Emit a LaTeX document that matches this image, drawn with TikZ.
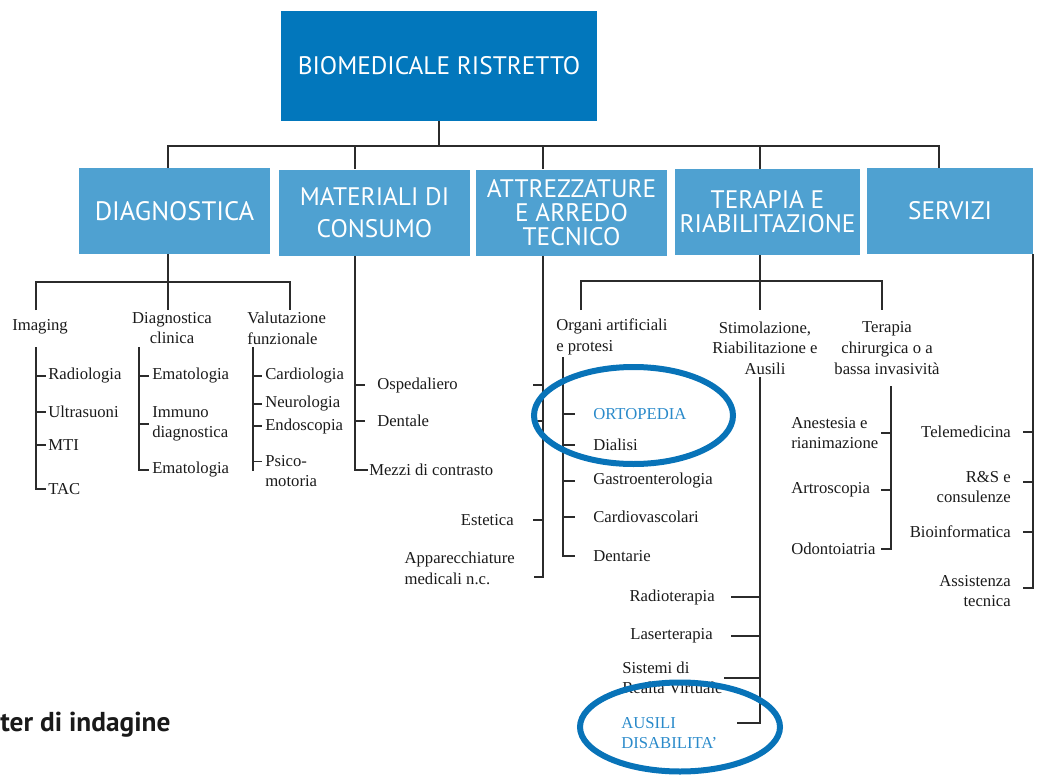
\documentclass[tikz,border=0pt]{standalone}
\usepackage{fontspec}
\setmainfont{Liberation Serif}
\newfontfamily\boxfont{PT Sans}
\usetikzlibrary{shapes.geometric}
\definecolor{rootblue}{HTML}{0277BC}
\definecolor{catblue}{HTML}{4FA1D1}
\definecolor{hlblue}{HTML}{2A8ACA}
\definecolor{ringblue}{HTML}{0873B8}
\definecolor{wirecol}{HTML}{2B2B2B}
\definecolor{ink}{HTML}{1A1A1A}

\begin{document}
\begin{tikzpicture}[x=0.75pt,y=-0.75pt,
  boxtext/.style={font=\boxfont\fontsize{19}{#1}\selectfont},
  rootbox/.style={fill=rootblue,text=white,inner sep=0pt,minimum width=237pt,minimum height=82.5pt,boxtext=24},
  catbox/.style={fill=catblue,text=white,inner sep=0pt,align=center,minimum height=64.5pt},
  leaf/.style={inner sep=0pt,text=ink,font=\fontsize{12.5}{15.5}\selectfont},
  lw/.style={leaf,anchor=west,align=left},
  lc/.style={leaf,align=center},
  le/.style={leaf,anchor=east,align=right},
  hl/.style={lw,text=hlblue},
  link/.style={draw=wirecol,line width=1.2pt},
  hoop/.style={ellipse,draw=ringblue,line width=4.5pt,inner sep=0pt}
]
\useasboundingbox (0,0) rectangle (1039,778);

% ---------- boxes ----------
\node[rootbox] (root) at (439,66) {BIOMEDICALE RISTRETTO};
\node[catbox,minimum width=143.25pt,font=\boxfont\fontsize{20}{24}\selectfont] (diag) at (174.5,211) {DIAGNOSTICA};
\node[catbox,minimum width=143.25pt,boxtext=24] (mat) at (374.5,212.5) {MATERIALI DI\\CONSUMO};
\node[catbox,minimum width=143.25pt,boxtext=18] (attr) at (571.5,212.5) {ATTREZZATURE\\E ARREDO\\TECNICO};
\node[catbox,minimum width=138.75pt,boxtext=18] (ter) at (767.5,212) {TERAPIA E\\RIABILITAZIONE};
\node[catbox,minimum width=124.5pt,boxtext=24] (serv) at (950,211) {SERVIZI};

% ---------- stems of the category boxes ----------
\coordinate (dX) at (168,0);
\coordinate (mX) at (355,0);
\coordinate (aX) at (543,0);
\coordinate (tX) at (760,0);
\coordinate (sX) at (939,0);
\coordinate (eX) at (1033,0);

\draw[link] (root.south) -- ++(0,25) coordinate (rbus);
\draw[link] (diag.north -| dX) |- (rbus) -| (serv.north -| sX);
\draw[link] (mat.north -| mX) -- (rbus -| mX);
\draw[link] (attr.north -| aX) -- (rbus -| aX);
\draw[link] (ter.north -| tX) -- (rbus -| tX);

% ---------- DIAGNOSTICA ----------
\node[lw] (img) at (12,327) {Imaging};
\node[lc] (dcl) at (172,328) {Diagnostica\\clinica};
\node[lw] (valf) at (247,328) {Valutazione\\funzionale};

\draw[link] (diag.south -| dX) -- ++(0,28) coordinate (dbus);
\coordinate (imgDrop) at (36,310);
\coordinate (valDrop) at (290,310);
\coordinate (dclDrop) at (168,310);
\draw[link] (imgDrop) |- (dbus) -| (valDrop);
\draw[link] (dbus) -- (dclDrop);

\node[lw] (rad) at (48,376) {Radiologia};
\node[lw] (ult) at (48,412) {Ultrasuoni};
\node[lw] (mti) at (48,445) {MTI};
\node[lw] (tac) at (48,489) {TAC};
\coordinate (imgSp) at (36,347);
\draw[link] (imgSp) |- ([xshift=-1.5pt]tac.west);
\foreach \n in {rad,ult,mti} \draw[link] (imgSp |- \n.west) -- ([xshift=-1.5pt]\n.west);

\node[lw] (ema1) at (152,376) {Ematologia};
\node[lw] (imm) at (152,424) {Immuno\\diagnostica};
\node[lw] (ema2) at (152,470) {Ematologia};
\coordinate (dclSp) at (139,347);
\draw[link] (dclSp) |- ([xshift=-2.5pt]ema2.west);
\foreach \n in {ema1,imm} \draw[link] (dclSp |- \n.west) -- ([xshift=-2.5pt]\n.west);

\node[lw] (car) at (265,376) {Cardiologia};
\node[lw] (neu) at (265,404) {Neurologia};
\node[lw] (endo) at (265,426) {Endoscopia};
\node[lw] (psi) at (265,471) {Psico-\\motoria};
\coordinate (valSp) at (253,347);
\coordinate (psiT) at ([yshift=7pt]psi.west);
\draw[link] (valSp) -- (valSp |- psi.west);
\foreach \n in {car,neu,endo,psiT} \draw[link] (valSp |- \n) -- ++(9,0);

% ---------- MATERIALI DI CONSUMO ----------
\node[lw] (osp) at (377,385) {Ospedaliero};
\node[lw] (dent) at (377,421) {Dentale};
\node[lw] (mezzi) at (369,470) {Mezzi di contrasto};
\draw[link] (mat.south -| mX) |- ([xshift=-1pt]mezzi.west);
\foreach \n in {osp,dent} \draw[link] (mX |- \n.west) -- ++(10,0);

% ---------- ATTREZZATURE E ARREDO TECNICO ----------
\node[le] (est) at (514,520) {Estetica};
\node[lw,anchor=east] (app) at (515,568) {Apparecchiature\\medicali n.c.};
\coordinate (aBot) at (543,577);
\draw[link] (attr.south -| aX) -- (aBot) -- ++(-9,0);
\foreach \n in {osp,dent,est} \draw[link] (aX |- \n) -- ++(-10,0);

% ---------- TERAPIA E RIABILITAZIONE ----------
\node[lw] (org) at (556,337) {Organi artificiali\\e protesi};
\node[lc] (stim) at (765,348) {Stimolazione,\\Riabilitazione e\\Ausili};
\node[lc] (chir) at (887,348) {Terapia\\chirurgica o a\\bassa invasività};

\draw[link] (ter.south -| tX) -- ++(0,26) coordinate (tbus);
\coordinate (orgDrop) at (581,310);
\coordinate (stimDrop) at (760,310);
\coordinate (chirDrop) at (882,310);
\draw[link] (orgDrop) |- (tbus) -| (chirDrop);
\draw[link] (tbus) -- (stimDrop);

% organi artificiali e protesi
\node[hl] (ort) at (593,414) {ORTOPEDIA};
\node[lw] (dia) at (593,445) {Dialisi};
\node[lw] (gas) at (593,481) {Gastroenterologia};
\node[lw] (cv) at (593,517) {Cardiovascolari};
\node[lw] (dnt) at (593,556) {Dentarie};
\coordinate (orgSp) at (563,357);
\draw[link] (orgSp) -- (orgSp |- dnt.west) -- ++(12,0);
\foreach \n in {ort,dia,gas,cv} \draw[link] (orgSp |- \n.west) -- ++(12,0);

% stimolazione, riabilitazione e ausili
\node[le] (radio) at (715,597) {Radioterapia};
\node[le] (laser) at (713,636) {Laserterapia};
\node[lw] (sist) at (622,678) {Sistemi di\\Realtà Virtuale};
\node[hl] (aus) at (621,733) {AUSILI\\DISABILITA’};
\coordinate (stimSp) at (760,377);
\coordinate (ausT) at ([yshift=7.5pt]aus.west);
\draw[link] (stimSp) -- (stimSp |- ausT) -- ++(-23,0);
\foreach \n in {radio,laser} \draw[link] (stimSp |- \n.east) -- ++(-29,0);
\draw[link] (stimSp |- sist.west) -- ++(-36,0);

% terapia chirurgica o a bassa invasivita
\node[lw] (anest) at (791,433) {Anestesia e\\rianimazione};
\node[lw] (artro) at (791,490) {Artroscopia};
\node[lw] (odon) at (791,549) {Odontoiatria};
\coordinate (chirSp) at (891,386);
\draw[link] (chirSp) -- (chirSp |- odon.west) -- ++(-10,0);
\foreach \n in {anest,artro} \draw[link] (chirSp |- \n.west) -- ++(-10,0);

% ---------- SERVIZI ----------
\node[le] (tele) at (1011,432) {Telemedicina};
\node[le] (rs) at (1011,487) {R\&S e\\consulenze};
\node[le] (bio) at (1011,532) {Bioinformatica};
\node[le] (ass) at (1011,591) {Assistenza\\tecnica};
\coordinate (rsT) at ([yshift=3.8pt]rs.east);
\coordinate (assT) at ([yshift=2.3pt]ass.east);
\draw[link] (serv.south -| eX) -- (eX |- assT) -- ++(-10,0);
\foreach \n in {tele,rsT,bio} \draw[link] (eX |- \n) -- ++(-10,0);

% ---------- highlight rings ----------
\node[hoop,minimum width=149.25pt,minimum height=72.75pt] (ring1) at (633.5,415.5) {};
\node[hoop,minimum width=150pt,minimum height=66.75pt] (ring2) at (680,727) {};

% ---------- caption fragment ----------
\node[anchor=base west,inner sep=0pt,text=ink,font=\boxfont\bfseries\fontsize{20.5}{23}\selectfont] (note) at (0,731) {ter di indagine};
\end{tikzpicture}
\end{document}
